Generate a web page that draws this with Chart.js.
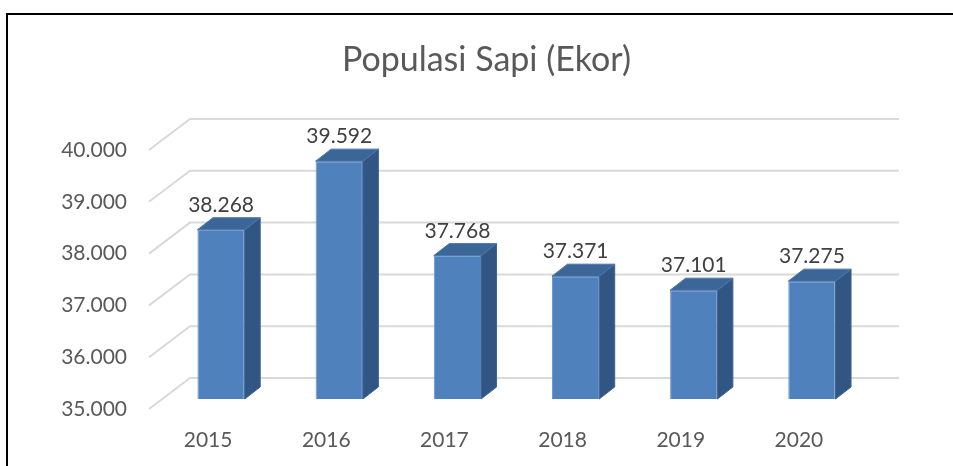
<!DOCTYPE html>
<html><head><meta charset="utf-8">
<script src="https://cdn.jsdelivr.net/npm/chart.js@4.4.0/dist/chart.umd.min.js"></script>
<style>
html,body{margin:0;padding:0;background:#fff;}
#wrap{position:relative;width:953px;height:466px;overflow:hidden;background:#fff;}
#frame{position:absolute;left:6px;top:13px;width:1000px;height:1000px;border-left:2px solid #000;border-top:2px solid #000;}
canvas{position:absolute;left:0;top:0;}
</style></head><body>
<div id="wrap"><div id="frame"></div><canvas id="c" width="953" height="466"></canvas></div>
<script>
const categories = ['2015', '2016', '2017', '2018', '2019', '2020'];
const populasi = [38268, 39592, 37768, 37371, 37101, 37275];
const valueLabels = ['38.268', '39.592', '37.768', '37.371', '37.101', '37.275'];
const yTickValues = [35000, 36000, 37000, 38000, 39000, 40000];
const yTickLabels = ['35.000', '36.000', '37.000', '38.000', '39.000', '40.000'];
const chartTitle = 'Populasi Sapi (Ekor)';

// 3D projection offsets
const WALL_DX = 41, WALL_DY = -31;   // front axis plane -> back wall
const BAR_DX = 13, BAR_DY = -10;     // front axis plane -> bar front face
const DEPTH_DX = 15.5, DEPTH_DY = -12; // bar depth

const threeD = {
  id: 'threeD',
  beforeDatasetsDraw(chart) {
    const ctx = chart.ctx, y = chart.scales.y, ca = chart.chartArea;
    ctx.save();
    ctx.strokeStyle = '#D9D9D9';
    ctx.lineWidth = 2;
    y.ticks.forEach(t => {
      const py = y.getPixelForValue(t.value);
      ctx.beginPath();
      ctx.moveTo(ca.left, py);
      ctx.lineTo(ca.left + WALL_DX, py + WALL_DY);
      ctx.lineTo(ca.right + WALL_DX, py + WALL_DY);
      ctx.stroke();
    });
    ctx.restore();
    ctx.save();
    ctx.translate(BAR_DX, BAR_DY);
  },
  afterDatasetsDraw(chart) {
    const ctx = chart.ctx;
    const meta = chart.getDatasetMeta(0);
    meta.data.forEach((el, i) => {
      const p = el.getProps(['x', 'y', 'base', 'width'], true);
      const l = p.x - p.width / 2, r = p.x + p.width / 2;
      // side face
      ctx.beginPath();
      ctx.moveTo(r, p.y);
      ctx.lineTo(r + DEPTH_DX, p.y + DEPTH_DY);
      ctx.lineTo(r + DEPTH_DX, p.base + DEPTH_DY);
      ctx.lineTo(r, p.base);
      ctx.closePath();
      ctx.fillStyle = '#325683';
      ctx.fill();
      ctx.strokeStyle = '#3E6494';
      ctx.lineWidth = 1;
      ctx.stroke();
      // top face
      ctx.beginPath();
      ctx.moveTo(l, p.y);
      ctx.lineTo(l + DEPTH_DX, p.y + DEPTH_DY);
      ctx.lineTo(r + DEPTH_DX, p.y + DEPTH_DY);
      ctx.lineTo(r, p.y);
      ctx.closePath();
      ctx.fillStyle = '#3C6698';
      ctx.fill();
      ctx.strokeStyle = '#4A76AC';
      ctx.stroke();
      // value label
      ctx.fillStyle = '#404040';
      ctx.font = '21px Lato';
      ctx.textAlign = 'center';
      ctx.textBaseline = 'alphabetic';
      ctx.fillText(valueLabels[i], p.x, p.y + DEPTH_DY - 6);
    });
    ctx.restore();
  }
};

new Chart(document.getElementById('c'), {
  type: 'bar',
  data: {
    labels: categories,
    datasets: [{
      data: populasi,
      base: 35000,
      backgroundColor: '#4F81BD',
      borderColor: '#6B95CB',
      borderWidth: 1,
      categoryPercentage: 1,
      barPercentage: 0.4,
      clip: false
    }]
  },
  options: {
    responsive: false,
    animation: false,
    devicePixelRatio: 1,
    layout: { padding: { left: 20, right: 0, top: 0, bottom: 0 } },
    plugins: {
      legend: { display: false },
      tooltip: { enabled: false },
      title: {
        display: true,
        text: chartTitle,
        color: '#595959',
        font: { family: 'Lato', size: 34, weight: 400, lineHeight: 1.2 },
        padding: { top: 39.6, bottom: 69.6 }
      }
    },
    scales: {
      x: {
        grid: { display: false },
        border: { display: false },
        ticks: { color: '#595959', font: { family: 'Lato', size: 21 }, padding: 11 },
        afterFit(s) { s.height = 57; }
      },
      y: {
        min: 35000, max: 40000,
        grid: { display: false },
        border: { display: false },
        afterBuildTicks(s) { s.ticks = yTickValues.map(v => ({ value: v })); },
        ticks: {
          color: '#595959',
          font: { family: 'Lato', size: 21 },
          padding: 14,
          callback(v) { const i = yTickValues.indexOf(v); return i >= 0 ? yTickLabels[i] : ''; }
        },
        afterFit(s) { s.width = 129; }
      },
      yRight: {
        position: 'right',
        min: 35000, max: 40000,
        grid: { display: false },
        border: { display: false },
        ticks: { display: false },
        afterFit(s) { s.width = 95; }
      }
    }
  },
  plugins: [threeD]
});
</script>
</body></html>
